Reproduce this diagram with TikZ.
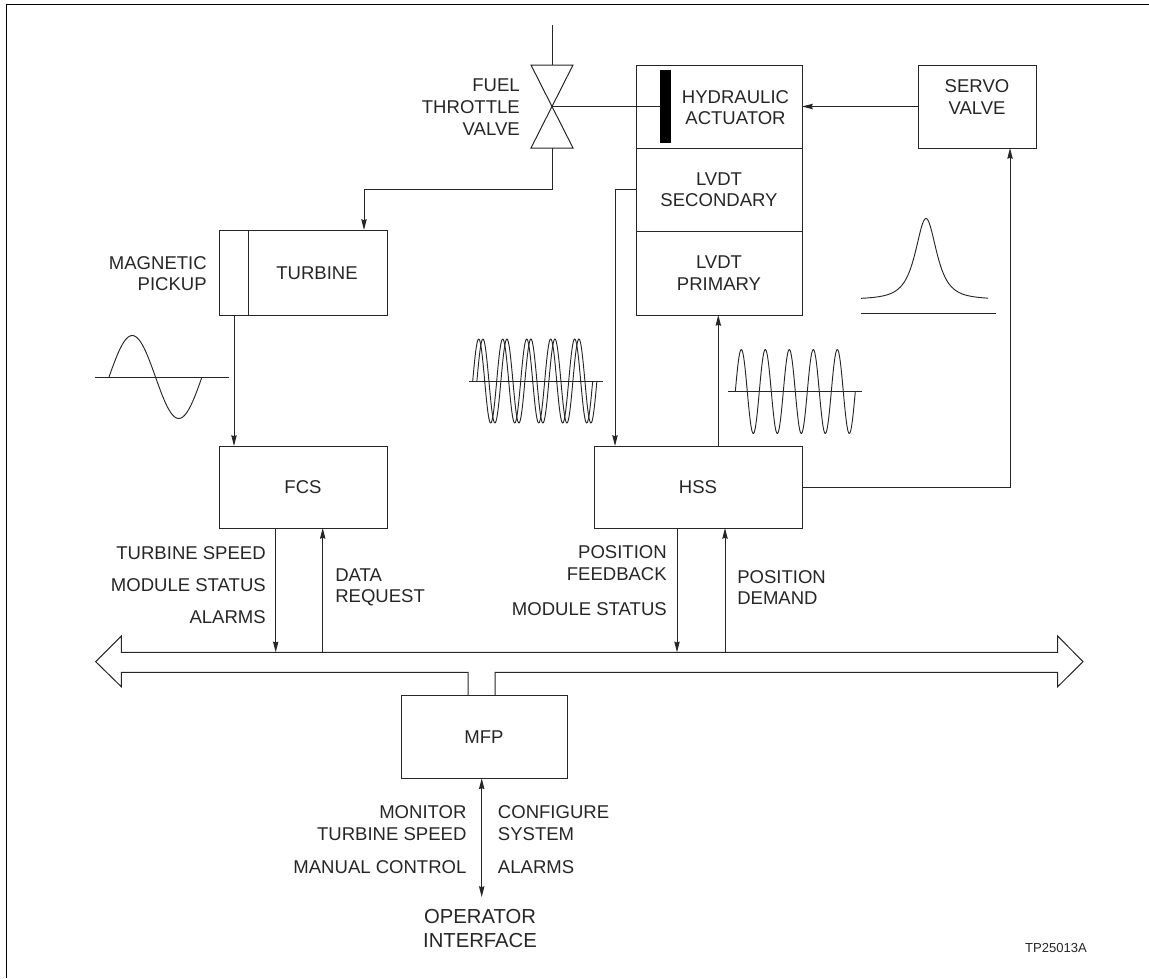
\documentclass[tikz,border=0pt]{standalone}
\usepackage{fontspec}
\setmainfont{Liberation Sans}
\usetikzlibrary{arrows.meta}
\def\pxu{0.75pt}
\tikzset{
  x=0.75pt,y=-0.75pt,
  ln/.style={draw=black!85,line width=0.75pt},
  arr/.style={ln,-{Stealth[length=8pt,width=4pt,inset=0.6pt]}},
  dbl/.style={ln,{Stealth[length=8pt,width=4pt,inset=0.6pt]}-{Stealth[length=8pt,width=4pt,inset=0.6pt]}},
  box/.style={ln,rectangle,inner sep=0pt,outer sep=0pt},
  wave/.style={draw=black!85,line width=0.7pt,line join=round},
  lab/.style={font=\fontsize{13.9}{16}\selectfont,inner sep=0pt,text=black!85},
  rlab/.style={lab,anchor=east,align=right},
  llab/.style={lab,anchor=west,align=left},
  clab/.style={lab,align=center},
}
\begin{document}
\begin{tikzpicture}
\useasboundingbox (0,0) rectangle (1149,978);
% frame
\draw[draw=black,line width=1pt] (6.3,978) -- (6.3,4.3) -- (1149,4.3);
% boxes
\node[box,minimum width=166*\pxu,minimum height=83*\pxu] (hyd) at (719,106.5) {};
\node[box,minimum width=166*\pxu,minimum height=83*\pxu] (sec) at (719,189.5) {};
\node[box,minimum width=166*\pxu,minimum height=84*\pxu] (pri) at (719,273) {};
\node[box,minimum width=118*\pxu,minimum height=83*\pxu] (servo) at (977,106.5) {};
\node[box,minimum width=168*\pxu,minimum height=85*\pxu] (turb) at (303,272.5) {};
\node[box,minimum width=168*\pxu,minimum height=82*\pxu] (fcs) at (303,487) {};
\node[box,minimum width=208*\pxu,minimum height=82*\pxu] (hss) at (698,487) {};
\node[box,minimum width=166.5*\pxu,minimum height=83*\pxu] (mfp) at (484.5,736.8) {};
% box labels
\node[clab] (thyd) at (735.5,107.8) {HYDRAULIC\\ACTUATOR};
\node[clab] (tsec) at (719,190) {LVDT\\SECONDARY};
\node[clab] (tpri) at (719,273) {LVDT\\PRIMARY};
\node[clab] (tservo) at (977,97) {SERVO\\VALVE};
\node[clab] (tturb) at (317,273) {TURBINE};
\node[clab] (tfcs) at (303,487) {FCS};
\node[clab] (thss) at (698,487) {HSS};
\node[clab] (tmfp) at (484,737) {MFP};
% pickup divider
\coordinate (pd) at (248,230);
\draw[ln] (pd |- turb.north) -- (pd |- turb.south);
% actuator bar
\fill[black] (659.5,69.5) rectangle (671,143);
\coordinate (bar) at (659.5,106);
% valve
\coordinate (valve) at (552,106);
\coordinate (vtop) at (552,65);
\coordinate (vbot) at (552,148);
\coordinate (pipe) at (552,25);
\draw[ln,line join=miter] (531,65) -- (573,65) -- (531,148) -- (573,148) -- cycle;
\draw[ln] (pipe) -- (vtop);
\draw[ln] (valve) -- (bar);
\node[rlab,font=\fontsize{13.9}{16.5}\selectfont] (tvalve) at (520,107) {FUEL\\THROTTLE\\VALVE};
% valve to turbine
\coordinate (tin) at (364,230);
\draw[arr] (vbot) |- (364,189) -- (tin);
% servo
\draw[arr] (servo.west) -- (hyd.east |- servo.west);
\coordinate (sin) at (1010,148);
\draw[arr] (hss.east) -| (sin);
% lvdt
\coordinate (s1) at (615,189.5);
\draw[arr] (sec.west) -- (s1) -- (s1 |- hss.north);
\coordinate (p1) at (718.3,315);
\draw[arr] (p1 |- hss.north) -- (p1);
% turbine to fcs
\coordinate (t1) at (234,315);
\draw[arr] (t1) -- (t1 |- fcs.north);
\node[rlab] (tmag) at (207,273.5) {MAGNETIC\\PICKUP};
% bus
\coordinate (b1) at (275.7,652.3);
\coordinate (b2) at (322.7,652.3);
\coordinate (b3) at (677,652.3);
\coordinate (b4) at (725,652.3);
\coordinate (mfpL) at (468,695.3);
\coordinate (mfpR) at (495,695.3);
\draw[ln,line join=miter] (mfpL) -- (468,672.3) -- (121.3,672.3) -- (121.3,686.7) -- (95.7,661.7) -- (121.3,636) -- (121.3,652.3)
  -- (1057.7,652.3) -- (1057.7,636) -- (1083,661.7) -- (1057.7,686.7) -- (1057.7,672.3) -- (495,672.3) -- (mfpR);
\draw[arr] (b1 |- fcs.south) -- (b1);
\draw[arr] (b2) -- (b2 |- fcs.south);
\draw[arr] (b3 |- hss.south) -- (b3);
\draw[arr] (b4) -- (b4 |- hss.south);
% operator
\coordinate (op) at (481.7,897);
\draw[dbl] (mfp.south -| op) -- (op);
% labels
\node[rlab] (l1) at (266,552.7) {TURBINE SPEED};
\node[rlab] (l2) at (266,585) {MODULE STATUS};
\node[rlab] (l3) at (266,617) {ALARMS};
\node[llab] (l4) at (335,587.5) {DATA\\REQUEST};
\node[rlab] (l5) at (667,563) {POSITION\\FEEDBACK};
\node[rlab] (l6) at (667,609) {MODULE STATUS};
\node[llab] (l7) at (737,587.5) {POSITION\\DEMAND};
\node[rlab] (l8) at (466.7,823) {MONITOR\\TURBINE SPEED};
\node[rlab] (l9) at (466.7,866.7) {MANUAL CONTROL};
\node[llab] (l10) at (497.7,823) {CONFIGURE\\SYSTEM};
\node[llab] (l11) at (497.7,866.7) {ALARMS};
\node[clab,font=\fontsize{15.2}{17.3}\selectfont] (l12) at (480,928.5) {OPERATOR\\INTERFACE};
\node[lab,font=\fontsize{9.8}{12}\selectfont] (l13) at (1056,948) {TP25013A};
% waveforms
\draw[ln] (95,377) -- (229,377);
\draw[wave] plot[domain=0:1,samples=60] ({109+93*\x},{377-41.5*sin(360*\x)});
\draw[ln] (469,381) -- (603,381);
\draw[wave] plot[domain=0:5,samples=200] ({472.7+24*\x},{381-42*sin(360*\x)});
\draw[wave] plot[domain=0:5,samples=200] ({476.9+24*\x},{381-42*sin(360*\x)});
\draw[ln] (728,391.5) -- (862,391.5);
\draw[wave] plot[domain=0:5,samples=200] ({735.3+24*\x},{391.5-42*sin(360*\x)});
\draw[ln] (861,313) -- (996,313);
\draw[wave] plot[domain=861:988,samples=150] (\x,{299.5-81/pow(1+((\x-926)/16.3)^2,1.5)});
\end{tikzpicture}
\end{document}
